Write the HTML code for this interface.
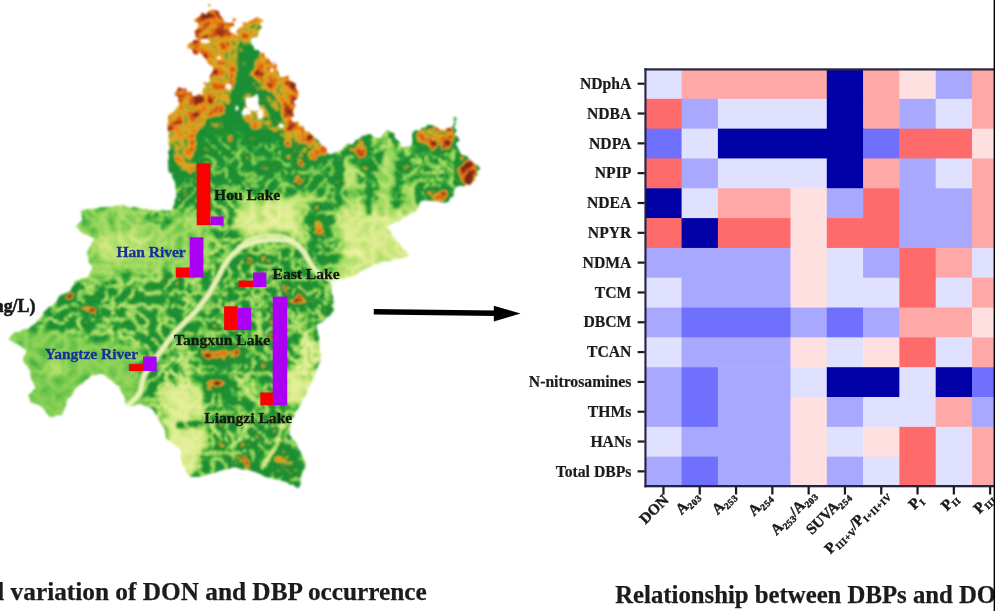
<!DOCTYPE html>
<html lang="en">
<head>
<meta charset="utf-8">
<title>Variation of DON and DBP occurrence</title>
<style>
html,body{margin:0;padding:0;background:#fff;width:995px;height:611px;overflow:hidden}
#fig{position:relative;width:995px;height:611px;overflow:hidden;background:#fff}
svg{display:block;position:absolute;left:0;top:0}
text{font-family:"Liberation Serif",serif;font-weight:bold;fill:#1a1a1a}
.yl{font-size:15.7px;stroke:#1a1a1a;stroke-width:0.2px}
.xl{font-size:15.2px;stroke:#1a1a1a;stroke-width:0.45px}
.sb{font-size:9.4px;letter-spacing:0.5px}
.cap{font-size:25.3px;stroke:#1a1a1a;stroke-width:0.25px}
.lk{font-size:15.6px;fill:#121a0c;stroke:#121a0c;stroke-width:0.3px}
.rv{font-size:15.5px;fill:#17309a;stroke:#17309a;stroke-width:0.3px}
</style>
</head>
<body>
<div id="fig">
<svg width="1010" height="626" viewBox="0 0 1010 626">
<defs>
<clipPath id="mapclip"><path clip-rule="evenodd" d="M208.4,11.0 L213.0,9.5 L218.5,11.0 L220.0,15.1 L222.5,18.0 L224.7,22.3 L228.5,23.0 L232.4,23.1 L233.0,17.9 L237.0,19.5 L233.1,21.9 L234.6,26.0 L230.4,27.0 L229.5,32.0 L232.3,32.9 L235.4,34.6 L238.4,35.5 L236.4,31.5 L239.3,27.9 L243.1,26.3 L242.6,22.0 L246.0,23.1 L249.1,21.2 L252.7,19.5 L257.3,16.9 L260.0,18.6 L263.8,21.0 L259.6,22.9 L262.3,27.6 L259.7,29.3 L258.8,32.0 L258.0,36.4 L253.4,37.4 L250.8,38.8 L250.7,43.3 L253.3,45.9 L254.7,50.0 L258.1,49.7 L260.6,52.7 L264.3,53.1 L264.8,57.4 L268.4,58.0 L270.6,62.5 L274.9,62.4 L277.3,65.3 L276.2,69.1 L278.9,72.5 L279.2,76.4 L283.4,77.6 L288.5,75.5 L289.0,79.6 L292.1,82.1 L295.8,83.2 L296.0,88.6 L298.4,92.3 L298.6,95.4 L297.0,98.7 L293.2,101.8 L296.0,105.5 L294.0,108.8 L292.7,112.1 L294.3,116.0 L291.0,118.0 L292.6,122.3 L298.8,121.6 L299.0,126.0 L303.3,125.7 L305.0,130.9 L309.0,131.4 L311.0,134.0 L313.2,136.3 L315.8,138.3 L318.4,140.4 L320.8,144.3 L323.0,146.0 L326.1,147.7 L327.2,152.7 L331.0,154.4 L333.9,152.8 L338.1,151.6 L341.0,150.0 L343.3,148.3 L345.6,145.2 L347.7,143.8 L351.2,144.5 L354.4,142.0 L356.0,140.0 L359.4,139.1 L361.2,136.5 L364.7,135.2 L367.3,134.6 L370.5,134.0 L373.6,137.0 L376.5,138.1 L380.5,138.0 L382.7,135.1 L384.4,132.8 L386.6,130.0 L389.1,130.9 L392.7,132.6 L394.7,134.0 L394.9,138.0 L397.6,140.3 L400.3,143.0 L400.7,147.0 L404.6,147.5 L407.7,145.9 L410.8,146.0 L412.2,142.4 L412.4,138.8 L411.9,135.2 L412.8,132.0 L415.6,130.2 L419.4,130.4 L422.2,127.7 L425.2,127.7 L427.5,124.7 L431.0,125.0 L434.9,126.0 L438.1,128.4 L441.0,130.0 L444.9,130.1 L447.7,127.7 L451.0,128.0 L454.0,124.1 L454.0,120.0 L456.0,123.5 L453.9,127.5 L457.0,130.0 L454.5,134.2 L457.6,136.7 L460.0,140.2 L455.7,143.6 L457.6,147.0 L459.0,150.0 L460.5,152.9 L463.4,155.4 L467.0,156.0 L469.0,159.1 L472.3,161.5 L474.9,163.9 L478.0,165.5 L480.3,168.7 L477.1,171.8 L477.8,175.1 L474.9,176.9 L475.0,180.6 L472.4,181.7 L470.3,185.0 L466.7,184.5 L464.1,186.2 L460.2,185.8 L457.0,186.6 L454.4,189.0 L454.0,193.3 L453.5,196.3 L450.1,198.0 L448.6,201.7 L445.0,202.7 L442.0,202.5 L438.5,201.6 L434.7,201.1 L431.0,200.7 L427.1,200.7 L424.4,200.3 L421.0,201.0 L419.1,203.9 L418.7,206.7 L417.0,210.0 L414.8,212.0 L411.6,213.6 L407.9,214.9 L405.8,216.7 L402.9,217.8 L400.0,221.0 L396.7,222.0 L393.6,223.3 L389.4,225.3 L386.6,227.0 L388.8,229.6 L390.9,232.0 L391.9,235.6 L394.7,238.0 L396.4,241.3 L398.4,242.6 L400.7,245.0 L402.3,248.1 L405.2,249.7 L406.9,253.1 L409.8,255.0 L406.9,256.5 L403.8,258.0 L400.7,258.4 L397.6,259.1 L393.5,259.3 L390.7,261.3 L386.8,261.6 L384.1,261.2 L380.5,262.4 L378.2,263.8 L374.8,263.9 L372.1,265.9 L369.1,267.1 L366.5,268.5 L363.9,269.5 L360.8,271.2 L358.2,273.2 L355.4,275.2 L352.4,276.5 L349.6,277.3 L346.1,277.6 L343.8,279.6 L340.3,279.6 L336.4,280.8 L333.2,280.9 L330.0,282.6 L331.7,286.1 L331.6,289.4 L331.9,292.9 L333.0,296.0 L333.3,300.0 L333.7,302.9 L333.1,306.2 L334.0,310.0 L331.8,313.1 L329.8,316.0 L327.0,317.4 L325.0,320.3 L320.9,322.8 L317.0,324.3 L316.6,327.2 L317.8,330.8 L318.2,333.8 L319.2,337.2 L319.0,340.4 L318.7,343.3 L320.2,347.5 L319.5,350.7 L321.2,354.0 L319.9,357.9 L321.0,360.6 L319.7,362.8 L318.2,365.7 L316.9,369.5 L316.0,371.3 L315.0,374.7 L313.6,378.3 L312.5,381.1 L310.8,383.5 L309.0,386.8 L307.7,389.1 L307.0,392.8 L305.9,395.3 L303.4,398.6 L301.9,400.6 L301.0,404.2 L299.5,406.8 L297.5,409.5 L295.4,411.7 L294.8,415.6 L293.0,418.1 L290.9,420.3 L290.3,424.3 L289.8,427.5 L289.9,431.0 L289.0,434.4 L291.5,436.9 L292.7,439.1 L295.3,441.6 L297.0,444.5 L298.4,448.3 L301.0,452.5 L302.0,456.3 L304.3,459.5 L305.3,462.4 L306.0,466.6 L304.3,469.6 L302.1,473.0 L301.0,476.7 L300.6,480.8 L300.5,484.5 L299.0,487.8 L296.1,487.5 L293.0,484.6 L290.1,484.9 L287.0,482.2 L284.4,481.5 L280.8,480.7 L277.8,479.7 L274.4,479.6 L271.4,478.1 L268.3,477.8 L264.7,476.7 L262.0,474.9 L259.4,473.8 L256.5,472.5 L253.4,471.6 L250.6,470.6 L247.3,469.5 L243.9,469.9 L240.5,469.0 L236.5,467.6 L233.2,467.5 L230.6,468.2 L226.4,469.5 L223.7,469.8 L220.4,470.6 L217.7,471.5 L214.5,473.1 L210.9,473.8 L207.7,473.9 L204.3,475.7 L201.1,476.4 L197.5,476.8 L193.8,476.9 L190.2,476.7 L187.2,473.7 L185.7,470.3 L184.4,467.3 L182.2,464.6 L181.7,460.9 L180.7,458.0 L180.5,454.8 L181.0,452.1 L180.1,448.5 L177.4,447.2 L174.6,445.1 L171.1,442.3 L168.9,440.8 L166.0,438.4 L165.5,434.5 L165.0,430.0 L163.2,426.2 L160.6,423.9 L159.0,420.0 L157.0,416.4 L155.3,413.9 L154.0,411.0 L151.0,408.0 L147.1,407.3 L144.8,405.7 L141.0,404.0 L137.4,404.6 L135.1,405.1 L132.6,406.4 L128.8,405.7 L125.9,407.0 L126.4,404.4 L124.8,401.6 L124.9,398.0 L123.4,395.6 L121.5,392.3 L120.3,389.6 L118.8,386.0 L115.5,384.4 L113.7,382.7 L111.6,380.5 L109.1,379.2 L106.6,377.1 L104.7,374.7 L101.6,373.9 L99.0,374.1 L95.6,375.6 L92.6,374.7 L90.1,376.8 L87.8,379.0 L84.8,380.7 L83.3,382.9 L80.6,384.7 L77.4,386.7 L74.5,390.0 L73.2,393.2 L70.9,396.7 L68.1,398.5 L66.5,402.0 L66.3,404.8 L65.0,407.8 L63.5,411.3 L62.4,414.2 L60.0,415.3 L56.8,415.3 L53.8,417.0 L50.4,417.3 L48.5,415.6 L46.4,413.0 L44.6,410.2 L42.7,407.6 L40.3,406.0 L37.0,404.2 L33.2,403.3 L30.2,402.0 L29.3,397.9 L28.2,395.0 L31.3,392.8 L33.4,389.8 L36.0,388.0 L34.1,384.8 L32.2,380.7 L30.8,377.9 L30.4,373.8 L30.2,370.6 L28.4,368.8 L27.0,365.3 L24.6,364.0 L23.2,360.6 L23.5,357.2 L26.0,353.5 L26.2,350.5 L23.9,348.5 L20.9,346.6 L18.1,344.4 L15.1,343.3 L11.1,340.8 L8.0,339.4 L10.0,337.7 L11.8,335.1 L14.1,332.4 L17.2,332.0 L20.7,331.5 L22.8,329.5 L26.2,329.3 L29.2,328.3 L31.4,325.9 L34.2,324.3 L36.9,321.8 L38.6,319.1 L40.1,317.6 L42.6,315.2 L44.0,311.4 L46.3,310.0 L48.4,307.3 L51.7,305.7 L53.5,304.1 L56.4,302.0 L57.9,298.4 L60.4,294.5 L63.6,293.5 L67.0,292.7 L70.5,291.0 L71.5,287.8 L74.1,284.1 L74.5,280.7 L78.3,280.3 L81.1,278.6 L85.2,278.3 L88.6,276.7 L89.0,274.0 L90.7,270.7 L92.6,268.6 L91.4,265.5 L88.6,262.6 L88.5,259.3 L87.5,255.4 L86.6,252.5 L88.6,249.5 L89.4,247.3 L91.5,244.0 L92.5,241.1 L94.7,238.4 L92.3,237.7 L89.0,236.2 L86.0,234.5 L82.8,233.2 L80.6,232.0 L78.2,228.2 L75.5,226.0 L78.2,224.1 L80.5,221.8 L82.6,220.0 L81.7,216.9 L81.6,213.9 L80.6,211.0 L83.4,210.1 L87.0,209.0 L91.0,209.1 L93.8,208.8 L97.2,208.5 L100.7,207.0 L103.6,207.1 L107.6,206.8 L111.3,206.8 L114.5,206.0 L117.6,205.7 L120.8,205.0 L124.1,205.0 L126.8,206.7 L130.4,207.4 L133.1,206.7 L136.5,207.2 L140.6,208.3 L143.4,209.3 L146.1,208.7 L149.8,209.8 L153.0,210.0 L156.0,210.4 L159.0,210.8 L162.3,209.8 L166.3,210.4 L169.0,210.2 L172.2,210.8 L172.7,207.0 L174.6,204.2 L174.5,199.9 L176.2,196.7 L176.3,193.0 L175.8,190.3 L174.9,187.0 L175.4,184.0 L174.2,180.6 L172.2,177.6 L172.0,174.5 L169.0,172.3 L168.0,168.5 L168.3,165.2 L167.7,162.4 L168.6,158.7 L168.9,155.4 L167.9,152.4 L169.5,148.7 L169.0,146.0 L168.5,142.4 L169.0,139.2 L168.2,136.3 L169.2,133.4 L167.7,130.6 L167.7,127.6 L167.6,123.8 L168.1,120.8 L168.0,115.4 L172.2,112.8 L175.2,110.1 L177.1,107.4 L179.4,104.4 L178.2,100.7 L178.2,96.6 L174.5,94.9 L176.2,90.6 L178.7,87.3 L182.7,88.5 L186.3,88.6 L187.5,92.0 L192.1,91.8 L192.0,96.0 L195.5,96.3 L199.4,93.6 L203.0,96.0 L202.2,92.3 L203.0,88.4 L205.8,86.0 L203.0,82.0 L207.3,82.9 L210.4,80.6 L209.5,77.3 L211.2,73.7 L213.5,69.7 L212.4,66.5 L209.0,64.2 L206.4,60.4 L204.3,57.5 L202.4,55.0 L199.6,52.6 L196.3,55.3 L193.3,53.4 L191.7,49.1 L187.3,48.3 L188.1,44.0 L191.8,42.7 L193.4,40.1 L198.0,40.0 L195.3,36.0 L194.4,31.1 L198.3,28.0 L198.3,22.7 L193.3,21.0 L196.9,17.6 L200.4,16.0 L201.5,12.2 L206.3,14.7Z M258.2,103.0 L260.5,108.6 L257.1,112.2 L253.0,110.5 L249.5,110.8 L247.2,107.3 L245.3,103.0 L245.7,97.6 L250.5,97.4 L253.0,97.0 L257.3,93.4 L258.8,98.7Z M251.3,112.0 L250.6,114.6 L247.4,114.4 L246.0,114.8 L243.5,116.3 L242.0,114.3 L241.5,112.0 L243.0,110.3 L243.9,108.3 L246.0,107.7 L248.1,108.3 L248.6,110.5Z M263.3,114.0 L263.6,116.6 L261.8,117.9 L260.0,119.4 L257.8,118.7 L257.6,115.7 L257.4,114.0 L255.7,110.9 L258.3,110.4 L260.0,109.9 L262.7,108.2 L263.4,111.6Z M231.4,87.0 L230.9,88.4 L230.4,90.2 L229.0,90.0 L228.0,89.4 L226.6,88.9 L225.1,87.0 L225.9,84.6 L227.2,82.9 L229.0,83.8 L230.5,83.4 L231.2,85.3Z M210.4,41.0 L210.1,42.2 L208.0,43.1 L205.0,43.6 L202.1,43.0 L199.4,42.3 L201.6,41.0 L200.8,40.0 L201.7,38.7 L205.0,38.8 L208.2,38.8 L208.2,40.3Z M284.0,126.0 L283.7,127.5 L282.2,128.1 L281.0,128.1 L280.2,127.4 L278.6,127.4 L278.6,126.0 L278.4,124.5 L279.9,124.0 L281.0,123.0 L282.1,124.2 L283.6,124.5Z M238.8,108.0 L238.3,109.1 L238.1,110.9 L237.0,110.1 L236.0,110.7 L235.4,109.4 L235.6,108.0 L235.3,106.5 L236.3,106.2 L237.0,105.1 L237.7,106.2 L238.2,106.9Z M220.6,58.0 L221.3,59.3 L219.7,59.3 L219.0,60.3 L218.3,59.2 L217.6,58.8 L216.3,58.0 L217.6,57.2 L217.9,56.1 L219.0,56.1 L220.0,56.3 L220.7,57.0Z M273.9,70.0 L273.6,70.9 L272.7,71.3 L272.0,72.5 L271.3,71.1 L270.3,71.0 L269.4,70.0 L270.8,69.3 L271.0,68.2 L272.0,67.8 L272.7,68.8 L273.6,69.1Z M210.6,5.0 L210.3,6.0 L209.3,6.7 L208.4,5.9 L208.0,5.0 L208.3,4.0 L209.3,4.0 L210.2,4.1Z M456.5,119.0 L456.1,121.0 L454.5,121.8 L453.4,120.3 L453.2,119.0 L453.2,117.4 L454.5,116.9 L456.2,116.8Z M275.7,63.0 L275.6,64.2 L274.0,64.7 L272.2,64.3 L272.4,63.0 L272.9,62.1 L274.0,61.9 L275.1,62.1Z"/></clipPath>
<filter id="terrain" filterUnits="userSpaceOnUse" x="0" y="0" width="500" height="500" color-interpolation-filters="sRGB">
<feGaussianBlur in="SourceGraphic" stdDeviation="0.5" result="src"/>
<feColorMatrix in="src" type="matrix" values="1 0 0 0 0  1 0 0 0 0  1 0 0 0 0  0 0 0 0 1" result="base"/>
<feColorMatrix in="src" type="matrix" values="0 1 0 0 0  0 1 0 0 0  0 1 0 0 0  0 0 0 0 1" result="amp"/>
<feTurbulence type="turbulence" baseFrequency="0.075" numOctaves="4" seed="7" result="n"/>
<feColorMatrix in="n" type="matrix" values="1 0 0 0 0  1 0 0 0 0  1 0 0 0 0  0 0 0 0 1" result="ng"/>
<feComposite in="amp" in2="ng" operator="arithmetic" k1="1" k2="-0.3" k3="0" k4="0.5" result="t"/>
<feComposite in="base" in2="t" operator="arithmetic" k1="0" k2="1" k3="2" k4="-1" result="e"/>
<feComponentTransfer in="e">
<feFuncR type="table" tableValues="0.933 0.916 0.898 0.880 0.863 0.822 0.782 0.742 0.700 0.658 0.615 0.573 0.525 0.478 0.431 0.382 0.331 0.279 0.227 0.194 0.160 0.127 0.110 0.111 0.111 0.112 0.112 0.113 0.113 0.113 0.114 0.114 0.115 0.115 0.116 0.116 0.117 0.117 0.206 0.382 0.580 0.800 0.859 0.919 0.909 0.876 0.843 0.765 0.686 0.595 0.490"/>
<feFuncG type="table" tableValues="0.957 0.949 0.941 0.933 0.925 0.914 0.903 0.892 0.878 0.863 0.847 0.831 0.813 0.796 0.778 0.754 0.725 0.696 0.667 0.640 0.613 0.586 0.572 0.570 0.569 0.567 0.566 0.564 0.563 0.562 0.560 0.559 0.557 0.556 0.554 0.553 0.551 0.550 0.569 0.608 0.648 0.690 0.645 0.600 0.529 0.451 0.373 0.302 0.231 0.180 0.149"/>
<feFuncB type="table" tableValues="0.659 0.633 0.608 0.582 0.557 0.523 0.490 0.456 0.427 0.402 0.378 0.353 0.335 0.317 0.299 0.282 0.267 0.251 0.235 0.229 0.222 0.215 0.211 0.210 0.209 0.208 0.207 0.206 0.205 0.204 0.203 0.202 0.201 0.200 0.200 0.199 0.198 0.197 0.191 0.181 0.170 0.157 0.131 0.105 0.093 0.086 0.078 0.075 0.072 0.076 0.086"/>
</feComponentTransfer>
</filter>
<filter id="b5" filterUnits="userSpaceOnUse" x="0" y="0" width="500" height="500" color-interpolation-filters="sRGB"><feGaussianBlur stdDeviation="4"/></filter>
<filter id="b1" filterUnits="userSpaceOnUse" x="0" y="0" width="500" height="500" color-interpolation-filters="sRGB"><feGaussianBlur stdDeviation="1.3"/></filter>
<filter id="soft" x="-5%" y="-5%" width="110%" height="110%"><feGaussianBlur stdDeviation="0.6"/></filter>
<filter id="soft3" x="-5%" y="-5%" width="110%" height="110%"><feGaussianBlur stdDeviation="0.7"/></filter>
<filter id="soft2" x="-5%" y="-5%" width="110%" height="110%"><feGaussianBlur stdDeviation="0.9"/></filter>
</defs>
<rect width="995" height="611" fill="#ffffff"/>
<!-- MAP -->
<g id="map" filter="url(#soft2)">
<g clip-path="url(#mapclip)">
<g filter="url(#terrain)">
<g filter="url(#b5)"><rect x="0" y="0" width="500" height="500" fill="rgb(87,140,0)"/>
<polygon points="185,0 275,0 310,90 312,142 160,152 160,90 180,50" fill="rgb(217,41,0)"/>
<polyline points="200,18 212,14 226,22 236,22" fill="none" stroke="rgb(252,41,0)" stroke-width="9" stroke-linecap="round" stroke-linejoin="round"/>
<polyline points="198,30 196,48 204,58 210,72" fill="none" stroke="rgb(250,41,0)" stroke-width="8" stroke-linecap="round" stroke-linejoin="round"/>
<polyline points="178,94 190,92 204,100" fill="none" stroke="rgb(252,41,0)" stroke-width="8" stroke-linecap="round" stroke-linejoin="round"/>
<polyline points="172,100 170,125" fill="none" stroke="rgb(237,41,0)" stroke-width="6" stroke-linecap="round" stroke-linejoin="round"/>
<polyline points="268,58 280,70 292,84 296,100 293,118" fill="none" stroke="rgb(250,41,0)" stroke-width="7" stroke-linecap="round" stroke-linejoin="round"/>
<polyline points="293,122 305,132 318,142" fill="none" stroke="rgb(247,41,0)" stroke-width="7" stroke-linecap="round" stroke-linejoin="round"/>
<polyline points="244,22 240,34" fill="none" stroke="rgb(242,41,0)" stroke-width="5" stroke-linecap="round" stroke-linejoin="round"/>
<ellipse cx="186" cy="138" rx="15" ry="26" fill="rgb(214,41,0)"/>
<ellipse cx="218" cy="45" rx="10" ry="10" fill="rgb(219,41,0)"/>
<polyline points="258,24 250,50 242,80 238,105 233,133 230,158" fill="none" stroke="rgb(204,41,0)" stroke-width="20" stroke-linecap="round" stroke-linejoin="round"/>
<polyline points="242,80 268,100 276,120" fill="none" stroke="rgb(204,41,0)" stroke-width="13" stroke-linecap="round" stroke-linejoin="round"/>
<polyline points="238,105 218,118 205,135" fill="none" stroke="rgb(204,41,0)" stroke-width="13" stroke-linecap="round" stroke-linejoin="round"/>
<polyline points="258,24 250,50" fill="none" stroke="rgb(201,41,0)" stroke-width="8" stroke-linecap="round" stroke-linejoin="round"/>
<polyline points="250,50 242,80 238,105 233,133 230,158" fill="none" stroke="rgb(128,76,0)" stroke-width="9" stroke-linecap="round" stroke-linejoin="round"/>
<polyline points="242,80 268,100 276,120" fill="none" stroke="rgb(140,76,0)" stroke-width="6" stroke-linecap="round" stroke-linejoin="round"/>
<polyline points="238,105 218,118 205,135" fill="none" stroke="rgb(158,76,0)" stroke-width="6" stroke-linecap="round" stroke-linejoin="round"/>
<polyline points="235,125 262,138" fill="none" stroke="rgb(140,76,0)" stroke-width="6" stroke-linecap="round" stroke-linejoin="round"/>
<polyline points="244,66 226,50" fill="none" stroke="rgb(204,41,0)" stroke-width="5" stroke-linecap="round" stroke-linejoin="round"/>
<polygon points="160,150 215,132 265,132 300,140 335,158 345,196 225,196 170,215 160,200" fill="rgb(107,128,0)"/>
<ellipse cx="190" cy="190" rx="22" ry="45" fill="rgb(110,143,0)"/>
<ellipse cx="302" cy="146" rx="22" ry="12" fill="rgb(222,41,0)" transform="rotate(28 302 146)"/>
<ellipse cx="325" cy="150" rx="9" ry="9" fill="rgb(219,41,0)"/>
<ellipse cx="268" cy="168" rx="9" ry="7" fill="rgb(189,66,0)"/>
<ellipse cx="250" cy="140" rx="8" ry="6" fill="rgb(189,66,0)"/>
<ellipse cx="184" cy="150" rx="16" ry="20" fill="rgb(214,41,0)"/>
<ellipse cx="186" cy="168" rx="13" ry="10" fill="rgb(201,51,0)"/>
<ellipse cx="300" cy="150" rx="20" ry="10" fill="rgb(204,51,0)" transform="rotate(28 300 150)"/>
<polygon points="240,198 300,194 345,200 345,222 300,244 250,248 232,228" fill="rgb(28,26,0)"/>
<ellipse cx="270" cy="222" rx="26" ry="14" fill="rgb(15,26,0)"/>
<polygon points="70,200 175,205 215,230 210,275 180,285 60,300" fill="rgb(56,36,0)"/>
<ellipse cx="158" cy="218" rx="10" ry="8" fill="rgb(110,143,0)"/>
<ellipse cx="90" cy="222" rx="10" ry="12" fill="rgb(71,36,0)"/>
<ellipse cx="125" cy="245" rx="30" ry="14" fill="rgb(33,26,0)"/>
<ellipse cx="222" cy="268" rx="16" ry="28" fill="rgb(69,102,0)"/>
<polygon points="330,130 480,110 490,200 420,210 340,205" fill="rgb(92,140,0)"/>
<ellipse cx="362" cy="150" rx="7" ry="10" fill="rgb(219,66,0)"/>
<ellipse cx="435" cy="138" rx="24" ry="13" fill="rgb(217,66,0)"/>
<ellipse cx="468" cy="172" rx="10" ry="16" fill="rgb(245,66,0)"/>
<ellipse cx="440" cy="197" rx="12" ry="7" fill="rgb(240,66,0)"/>
<polyline points="352,165 356,215" fill="none" stroke="rgb(38,26,0)" stroke-width="13" stroke-linecap="round" stroke-linejoin="round"/>
<polyline points="390,148 384,215" fill="none" stroke="rgb(43,26,0)" stroke-width="13" stroke-linecap="round" stroke-linejoin="round"/>
<polyline points="412,185 405,215" fill="none" stroke="rgb(46,26,0)" stroke-width="9" stroke-linecap="round" stroke-linejoin="round"/>
<polyline points="333,150 337,210" fill="none" stroke="rgb(110,143,0)" stroke-width="9" stroke-linecap="round" stroke-linejoin="round"/>
<polyline points="372,140 371,215" fill="none" stroke="rgb(110,143,0)" stroke-width="9" stroke-linecap="round" stroke-linejoin="round"/>
<polyline points="406,150 399,205" fill="none" stroke="rgb(110,143,0)" stroke-width="8" stroke-linecap="round" stroke-linejoin="round"/>
<polyline points="430,160 420,195" fill="none" stroke="rgb(110,143,0)" stroke-width="12" stroke-linecap="round" stroke-linejoin="round"/>
<polygon points="338,205 420,205 415,262 330,290 335,240" fill="rgb(26,26,0)"/>
<ellipse cx="357" cy="252" rx="10" ry="9" fill="rgb(8,26,0)"/>
<ellipse cx="322" cy="232" rx="15" ry="32" fill="rgb(110,143,0)" transform="rotate(-18 322 232)"/>
<ellipse cx="320" cy="226" rx="5" ry="9" fill="rgb(217,66,0)" transform="rotate(-18 320 226)"/>
<polygon points="300,262 350,262 340,284 300,284" fill="rgb(51,26,0)"/>
<polygon points="50,283 200,272 215,330 140,345 60,322" fill="rgb(84,128,0)"/>
<ellipse cx="90" cy="310" rx="11" ry="5" fill="rgb(219,66,0)"/>
<ellipse cx="70" cy="296" rx="6" ry="4" fill="rgb(214,66,0)"/>
<ellipse cx="102" cy="289" rx="5" ry="3" fill="rgb(214,66,0)"/>
<polygon points="0,322 60,330 135,345 150,425 20,430" fill="rgb(64,26,0)"/>
<ellipse cx="55" cy="370" rx="10" ry="7" fill="rgb(43,26,0)"/>
<ellipse cx="100" cy="362" rx="30" ry="14" fill="rgb(61,20,0)"/>
<ellipse cx="45" cy="395" rx="18" ry="18" fill="rgb(64,20,0)"/>
<polygon points="170,285 340,284 340,335 300,420 315,495 190,490 190,430 150,400 160,340" fill="rgb(92,140,0)"/>
<polygon points="246,252 330,256 335,300 320,330 275,420 290,480 215,470 205,420 210,300" fill="rgb(101,153,0)"/>
<ellipse cx="222" cy="356" rx="22" ry="8" fill="rgb(214,66,0)"/>
<ellipse cx="217" cy="383" rx="16" ry="7" fill="rgb(214,66,0)"/>
<ellipse cx="230" cy="400" rx="6" ry="6" fill="rgb(204,66,0)"/>
<ellipse cx="297" cy="302" rx="14" ry="4" fill="rgb(217,66,0)"/>
<ellipse cx="296" cy="338" rx="6" ry="3" fill="rgb(207,66,0)"/>
<ellipse cx="285" cy="462" rx="13" ry="14" fill="rgb(204,51,0)"/>
<ellipse cx="250" cy="470" rx="18" ry="6" fill="rgb(196,51,0)"/>
<ellipse cx="308" cy="365" rx="13" ry="38" fill="rgb(33,76,0)"/>
<ellipse cx="294" cy="390" rx="10" ry="22" fill="rgb(20,26,0)"/>
<ellipse cx="258" cy="386" rx="8" ry="8" fill="rgb(36,26,0)"/>
<polygon points="158,388 200,378 208,420 198,472 178,478 162,432" fill="rgb(20,26,0)"/>
<ellipse cx="180" cy="445" rx="14" ry="30" fill="rgb(15,20,0)"/>
<ellipse cx="180" cy="365" rx="18" ry="22" fill="rgb(64,115,0)"/>
<polyline points="140,393 144,375 158,355 175,332 196,311 208,295 216,281 224,266 231,256 241,247 255,241 271,238 287,240 297,244 304,252 311,264 319,274 331,280" fill="none" stroke="rgb(92,76,0)" stroke-width="11" stroke-linecap="round" stroke-linejoin="round"/></g>
<g filter="url(#b1)"><polyline points="350,170 353,212" fill="none" stroke="rgb(41,31,0)" stroke-width="9" stroke-linecap="round" stroke-linejoin="round"/>
<polyline points="388,155 383,212" fill="none" stroke="rgb(46,31,0)" stroke-width="9" stroke-linecap="round" stroke-linejoin="round"/>
<polyline points="411,188 405,212" fill="none" stroke="rgb(46,31,0)" stroke-width="6" stroke-linecap="round" stroke-linejoin="round"/>
<polyline points="335,158 339,205" fill="none" stroke="rgb(122,76,0)" stroke-width="6" stroke-linecap="round" stroke-linejoin="round"/>
<polyline points="370,150 369,212" fill="none" stroke="rgb(122,76,0)" stroke-width="6" stroke-linecap="round" stroke-linejoin="round"/>
<polyline points="402,155 397,205" fill="none" stroke="rgb(122,76,0)" stroke-width="6" stroke-linecap="round" stroke-linejoin="round"/>
<polyline points="283,420 277,445 262,468" fill="none" stroke="rgb(20,26,0)" stroke-width="4" stroke-linecap="round" stroke-linejoin="round"/>
<polyline points="235,375 250,395 260,405" fill="none" stroke="rgb(31,26,0)" stroke-width="3" stroke-linecap="round" stroke-linejoin="round"/>
<polyline points="250,415 240,440 225,450" fill="none" stroke="rgb(31,26,0)" stroke-width="3" stroke-linecap="round" stroke-linejoin="round"/>
<polyline points="205,415 222,440" fill="none" stroke="rgb(31,26,0)" stroke-width="3.5" stroke-linecap="round" stroke-linejoin="round"/>
<polyline points="255,310 262,340" fill="none" stroke="rgb(41,26,0)" stroke-width="3" stroke-linecap="round" stroke-linejoin="round"/>
<polyline points="180,425 200,425" fill="none" stroke="rgb(110,143,0)" stroke-width="7" stroke-linecap="round" stroke-linejoin="round"/>
<ellipse cx="218" cy="354" rx="13" ry="3.2" fill="rgb(245,51,0)" transform="rotate(-8 218 354)"/>
<ellipse cx="216" cy="383" rx="10" ry="3" fill="rgb(245,51,0)"/>
<ellipse cx="300" cy="301" rx="12" ry="2.5" fill="rgb(224,51,0)"/>
<ellipse cx="88" cy="309" rx="8" ry="3" fill="rgb(237,51,0)" transform="rotate(15 88 309)"/>
<ellipse cx="70" cy="296" rx="4" ry="2.5" fill="rgb(235,51,0)" transform="rotate(-30 70 296)"/>
<ellipse cx="319" cy="226" rx="4.5" ry="7" fill="rgb(222,38,0)" transform="rotate(-20 319 226)"/>
<ellipse cx="469" cy="172" rx="7" ry="13" fill="rgb(245,51,0)" transform="rotate(10 469 172)"/>
<ellipse cx="440" cy="196" rx="9" ry="4.5" fill="rgb(242,51,0)" transform="rotate(-20 440 196)"/>
<ellipse cx="361" cy="150" rx="6" ry="9" fill="rgb(222,38,0)"/>
<ellipse cx="324" cy="149" rx="6" ry="7" fill="rgb(222,38,0)"/>
<ellipse cx="436" cy="136" rx="20" ry="9" fill="rgb(219,51,0)" transform="rotate(-8 436 136)"/></g>
</g>
<g fill="none" stroke="#e6f3b2" stroke-linejoin="round" stroke-linecap="round">
<polyline points="126,407 131,403 140,393 144,375 158,355 175,332 186,321 196.3,310.8 208.4,294.7 216.5,280.6 223.5,266.5 230.6,256.4 240.6,247.3 254.7,241.8 270.8,239.3 287,240.2 297,244.3 304.1,252.4 311.1,264.5 319.2,274.5 331.3,279.6 352,281" stroke-width="5"/>
<polyline points="238,247 250,238.5 266,235 282,235.5 294,240" stroke-width="2.6"/>
</g>
</g>
</g>
<g id="bars" filter="url(#soft)">
<rect x="196.7" y="163.4" width="13.7" height="61.8" fill="#fa0303"/>
<rect x="210.4" y="216.5" width="13.1" height="8.7" fill="#ac00f2"/>
<rect x="189.7" y="237.3" width="13.7" height="40.2" fill="#ac00f2"/>
<rect x="175.8" y="267.5" width="13.9" height="10" fill="#fa0303"/>
<rect x="253.1" y="272.5" width="13.3" height="14.5" fill="#ac00f2"/>
<rect x="238.6" y="280.6" width="14.5" height="6.4" fill="#fa0303"/>
<rect x="224.1" y="306.3" width="13.7" height="23.7" fill="#fa0303"/>
<rect x="237.8" y="307.8" width="13.3" height="22.2" fill="#ac00f2"/>
<rect x="272.7" y="296.6" width="14.5" height="108.6" fill="#ac00f2"/>
<rect x="260.3" y="392.5" width="12.6" height="12.7" fill="#fa0303"/>
<rect x="143" y="356.5" width="13.7" height="14.5" fill="#ac00f2"/>
<rect x="128.9" y="364.2" width="14.2" height="6.8" fill="#fa0303"/>
</g>
<g id="maplabels" filter="url(#soft)">
<text class="lk" x="214" y="200">Hou Lake</text>
<text class="rv" x="116.4" y="257">Han River</text>
<text class="lk" x="272.5" y="278.5">East Lake</text>
<text class="lk" x="174.1" y="345.4">Tangxun Lake</text>
<text class="rv" x="44.7" y="359.2">Yangtze River</text>
<text class="lk" x="204.3" y="422.7">Liangzi Lake</text>
<text x="35.3" y="311.8" text-anchor="end" style="font-size:17.8px;stroke:#1a1a1a;stroke-width:0.6px">ng/L)</text>
</g>
<!-- ARROW -->
<g filter="url(#soft)">
<line x1="373.8" y1="311.8" x2="496" y2="313.3" stroke="#000" stroke-width="5.5"/>
<polygon points="493.8,305.8 520.6,313.6 493.8,321.5" fill="#000"/>
</g>
<!-- HEATMAP -->
<g id="heatmap" filter="url(#soft3)">
<rect x="645.30" y="69.00" width="36.80" height="30.32" fill="#e0e0ff"/>
<rect x="681.60" y="69.00" width="145.70" height="30.32" fill="#ffa8a8"/>
<rect x="826.80" y="69.00" width="36.80" height="30.32" fill="#0000a6"/>
<rect x="863.10" y="69.00" width="36.80" height="30.32" fill="#ffa8a8"/>
<rect x="899.40" y="69.00" width="36.80" height="30.32" fill="#ffe0e0"/>
<rect x="935.70" y="69.00" width="36.80" height="30.32" fill="#a8a8ff"/>
<rect x="972.00" y="69.00" width="36.80" height="30.32" fill="#ffa8a8"/>
<rect x="645.30" y="98.82" width="36.80" height="30.32" fill="#ff6a6a"/>
<rect x="681.60" y="98.82" width="36.80" height="30.32" fill="#a8a8ff"/>
<rect x="717.90" y="98.82" width="109.40" height="30.32" fill="#e0e0ff"/>
<rect x="826.80" y="98.82" width="36.80" height="30.32" fill="#0000a6"/>
<rect x="863.10" y="98.82" width="36.80" height="30.32" fill="#ffa8a8"/>
<rect x="899.40" y="98.82" width="36.80" height="30.32" fill="#a8a8ff"/>
<rect x="935.70" y="98.82" width="36.80" height="30.32" fill="#e0e0ff"/>
<rect x="972.00" y="98.82" width="36.80" height="30.32" fill="#ffa8a8"/>
<rect x="645.30" y="128.64" width="36.80" height="30.32" fill="#7070ff"/>
<rect x="681.60" y="128.64" width="36.80" height="30.32" fill="#e0e0ff"/>
<rect x="717.90" y="128.64" width="145.70" height="30.32" fill="#0000a6"/>
<rect x="863.10" y="128.64" width="36.80" height="30.32" fill="#7070ff"/>
<rect x="899.40" y="128.64" width="73.10" height="30.32" fill="#ff6a6a"/>
<rect x="972.00" y="128.64" width="36.80" height="30.32" fill="#ffe0e0"/>
<rect x="645.30" y="158.46" width="36.80" height="30.32" fill="#ff6a6a"/>
<rect x="681.60" y="158.46" width="36.80" height="30.32" fill="#a8a8ff"/>
<rect x="717.90" y="158.46" width="109.40" height="30.32" fill="#e0e0ff"/>
<rect x="826.80" y="158.46" width="36.80" height="30.32" fill="#0000a6"/>
<rect x="863.10" y="158.46" width="36.80" height="30.32" fill="#ffa8a8"/>
<rect x="899.40" y="158.46" width="36.80" height="30.32" fill="#a8a8ff"/>
<rect x="935.70" y="158.46" width="36.80" height="30.32" fill="#e0e0ff"/>
<rect x="972.00" y="158.46" width="36.80" height="30.32" fill="#ffa8a8"/>
<rect x="645.30" y="188.28" width="36.80" height="30.32" fill="#0000a6"/>
<rect x="681.60" y="188.28" width="36.80" height="30.32" fill="#e0e0ff"/>
<rect x="717.90" y="188.28" width="73.10" height="30.32" fill="#ffa8a8"/>
<rect x="790.50" y="188.28" width="36.80" height="30.32" fill="#ffe0e0"/>
<rect x="826.80" y="188.28" width="36.80" height="30.32" fill="#a8a8ff"/>
<rect x="863.10" y="188.28" width="36.80" height="30.32" fill="#ff6a6a"/>
<rect x="899.40" y="188.28" width="73.10" height="30.32" fill="#a8a8ff"/>
<rect x="972.00" y="188.28" width="36.80" height="30.32" fill="#ffa8a8"/>
<rect x="645.30" y="218.10" width="36.80" height="30.32" fill="#ff6a6a"/>
<rect x="681.60" y="218.10" width="36.80" height="30.32" fill="#0000a6"/>
<rect x="717.90" y="218.10" width="73.10" height="30.32" fill="#ff6a6a"/>
<rect x="790.50" y="218.10" width="36.80" height="30.32" fill="#ffe0e0"/>
<rect x="826.80" y="218.10" width="73.10" height="30.32" fill="#ff6a6a"/>
<rect x="899.40" y="218.10" width="73.10" height="30.32" fill="#a8a8ff"/>
<rect x="972.00" y="218.10" width="36.80" height="30.32" fill="#ffa8a8"/>
<rect x="645.30" y="247.92" width="145.70" height="30.32" fill="#a8a8ff"/>
<rect x="790.50" y="247.92" width="36.80" height="30.32" fill="#ffe0e0"/>
<rect x="826.80" y="247.92" width="36.80" height="30.32" fill="#e0e0ff"/>
<rect x="863.10" y="247.92" width="36.80" height="30.32" fill="#a8a8ff"/>
<rect x="899.40" y="247.92" width="36.80" height="30.32" fill="#ff6a6a"/>
<rect x="935.70" y="247.92" width="36.80" height="30.32" fill="#ffa8a8"/>
<rect x="972.00" y="247.92" width="36.80" height="30.32" fill="#e0e0ff"/>
<rect x="645.30" y="277.74" width="36.80" height="30.32" fill="#e0e0ff"/>
<rect x="681.60" y="277.74" width="109.40" height="30.32" fill="#a8a8ff"/>
<rect x="790.50" y="277.74" width="36.80" height="30.32" fill="#ffe0e0"/>
<rect x="826.80" y="277.74" width="73.10" height="30.32" fill="#e0e0ff"/>
<rect x="899.40" y="277.74" width="36.80" height="30.32" fill="#ff6a6a"/>
<rect x="935.70" y="277.74" width="36.80" height="30.32" fill="#e0e0ff"/>
<rect x="972.00" y="277.74" width="36.80" height="30.32" fill="#ffa8a8"/>
<rect x="645.30" y="307.56" width="36.80" height="30.32" fill="#a8a8ff"/>
<rect x="681.60" y="307.56" width="109.40" height="30.32" fill="#7070ff"/>
<rect x="790.50" y="307.56" width="36.80" height="30.32" fill="#a8a8ff"/>
<rect x="826.80" y="307.56" width="36.80" height="30.32" fill="#7070ff"/>
<rect x="863.10" y="307.56" width="36.80" height="30.32" fill="#a8a8ff"/>
<rect x="899.40" y="307.56" width="73.10" height="30.32" fill="#ffa8a8"/>
<rect x="972.00" y="307.56" width="36.80" height="30.32" fill="#ffe0e0"/>
<rect x="645.30" y="337.38" width="36.80" height="30.32" fill="#e0e0ff"/>
<rect x="681.60" y="337.38" width="109.40" height="30.32" fill="#a8a8ff"/>
<rect x="790.50" y="337.38" width="36.80" height="30.32" fill="#ffe0e0"/>
<rect x="826.80" y="337.38" width="36.80" height="30.32" fill="#e0e0ff"/>
<rect x="863.10" y="337.38" width="36.80" height="30.32" fill="#ffe0e0"/>
<rect x="899.40" y="337.38" width="36.80" height="30.32" fill="#ff6a6a"/>
<rect x="935.70" y="337.38" width="36.80" height="30.32" fill="#e0e0ff"/>
<rect x="972.00" y="337.38" width="36.80" height="30.32" fill="#ffa8a8"/>
<rect x="645.30" y="367.20" width="36.80" height="30.32" fill="#a8a8ff"/>
<rect x="681.60" y="367.20" width="36.80" height="30.32" fill="#7070ff"/>
<rect x="717.90" y="367.20" width="73.10" height="30.32" fill="#a8a8ff"/>
<rect x="790.50" y="367.20" width="36.80" height="30.32" fill="#e0e0ff"/>
<rect x="826.80" y="367.20" width="73.10" height="30.32" fill="#0000a6"/>
<rect x="899.40" y="367.20" width="36.80" height="30.32" fill="#e0e0ff"/>
<rect x="935.70" y="367.20" width="36.80" height="30.32" fill="#0000a6"/>
<rect x="972.00" y="367.20" width="36.80" height="30.32" fill="#7070ff"/>
<rect x="645.30" y="397.02" width="36.80" height="30.32" fill="#a8a8ff"/>
<rect x="681.60" y="397.02" width="36.80" height="30.32" fill="#7070ff"/>
<rect x="717.90" y="397.02" width="73.10" height="30.32" fill="#a8a8ff"/>
<rect x="790.50" y="397.02" width="36.80" height="30.32" fill="#ffe0e0"/>
<rect x="826.80" y="397.02" width="36.80" height="30.32" fill="#a8a8ff"/>
<rect x="863.10" y="397.02" width="73.10" height="30.32" fill="#e0e0ff"/>
<rect x="935.70" y="397.02" width="36.80" height="30.32" fill="#ffa8a8"/>
<rect x="972.00" y="397.02" width="36.80" height="30.32" fill="#a8a8ff"/>
<rect x="645.30" y="426.84" width="36.80" height="30.32" fill="#e0e0ff"/>
<rect x="681.60" y="426.84" width="109.40" height="30.32" fill="#a8a8ff"/>
<rect x="790.50" y="426.84" width="36.80" height="30.32" fill="#ffe0e0"/>
<rect x="826.80" y="426.84" width="36.80" height="30.32" fill="#e0e0ff"/>
<rect x="863.10" y="426.84" width="36.80" height="30.32" fill="#ffe0e0"/>
<rect x="899.40" y="426.84" width="36.80" height="30.32" fill="#ff6a6a"/>
<rect x="935.70" y="426.84" width="36.80" height="30.32" fill="#e0e0ff"/>
<rect x="972.00" y="426.84" width="36.80" height="30.32" fill="#ffa8a8"/>
<rect x="645.30" y="456.66" width="36.80" height="30.32" fill="#a8a8ff"/>
<rect x="681.60" y="456.66" width="36.80" height="30.32" fill="#7070ff"/>
<rect x="717.90" y="456.66" width="73.10" height="30.32" fill="#a8a8ff"/>
<rect x="790.50" y="456.66" width="36.80" height="30.32" fill="#ffe0e0"/>
<rect x="826.80" y="456.66" width="36.80" height="30.32" fill="#a8a8ff"/>
<rect x="863.10" y="456.66" width="36.80" height="30.32" fill="#e0e0ff"/>
<rect x="899.40" y="456.66" width="36.80" height="30.32" fill="#ff6a6a"/>
<rect x="935.70" y="456.66" width="36.80" height="30.32" fill="#e0e0ff"/>
<rect x="972.00" y="456.66" width="36.80" height="30.32" fill="#ffa8a8"/>
<rect x="644.4" y="68.3" width="352" height="2.2" fill="#26263c"/>
<rect x="644.4" y="68.3" width="2.1" height="419" fill="#202044"/>
<rect x="644.4" y="485" width="352" height="2.3" fill="#202044"/>
<rect x="637.6" y="82.61" width="7" height="2.2" fill="#1a1a1a"/>
<text class="yl" x="631.4" y="88.91" text-anchor="end">NDphA</text>
<rect x="637.6" y="112.43" width="7" height="2.2" fill="#1a1a1a"/>
<text class="yl" x="631.4" y="118.73" text-anchor="end">NDBA</text>
<rect x="637.6" y="142.25" width="7" height="2.2" fill="#1a1a1a"/>
<text class="yl" x="631.4" y="148.55" text-anchor="end">NDPA</text>
<rect x="637.6" y="172.07" width="7" height="2.2" fill="#1a1a1a"/>
<text class="yl" x="631.4" y="178.37" text-anchor="end">NPIP</text>
<rect x="637.6" y="201.89" width="7" height="2.2" fill="#1a1a1a"/>
<text class="yl" x="631.4" y="208.19" text-anchor="end">NDEA</text>
<rect x="637.6" y="231.71" width="7" height="2.2" fill="#1a1a1a"/>
<text class="yl" x="631.4" y="238.01" text-anchor="end">NPYR</text>
<rect x="637.6" y="261.53" width="7" height="2.2" fill="#1a1a1a"/>
<text class="yl" x="631.4" y="267.83" text-anchor="end">NDMA</text>
<rect x="637.6" y="291.35" width="7" height="2.2" fill="#1a1a1a"/>
<text class="yl" x="631.4" y="297.65" text-anchor="end">TCM</text>
<rect x="637.6" y="321.17" width="7" height="2.2" fill="#1a1a1a"/>
<text class="yl" x="631.4" y="327.47" text-anchor="end">DBCM</text>
<rect x="637.6" y="350.99" width="7" height="2.2" fill="#1a1a1a"/>
<text class="yl" x="631.4" y="357.29" text-anchor="end">TCAN</text>
<rect x="637.6" y="380.81" width="7" height="2.2" fill="#1a1a1a"/>
<text class="yl" x="631.4" y="387.11" text-anchor="end">N-nitrosamines</text>
<rect x="637.6" y="410.63" width="7" height="2.2" fill="#1a1a1a"/>
<text class="yl" x="631.4" y="416.93" text-anchor="end">THMs</text>
<rect x="637.6" y="440.45" width="7" height="2.2" fill="#1a1a1a"/>
<text class="yl" x="631.4" y="446.75" text-anchor="end">HANs</text>
<rect x="637.6" y="470.27" width="7" height="2.2" fill="#1a1a1a"/>
<text class="yl" x="631.4" y="476.57" text-anchor="end">Total DBPs</text>
<rect x="662.35" y="487" width="2.2" height="7.5" fill="#1a1a1a"/>
<text class="xl" transform="translate(669.45,501) rotate(-45)" text-anchor="end">DON</text>
<rect x="698.65" y="487" width="2.2" height="7.5" fill="#1a1a1a"/>
<text class="xl" transform="translate(700.25,496.5) rotate(-45)" text-anchor="end">A<tspan class="sb" dy="3">203</tspan></text>
<rect x="734.95" y="487" width="2.2" height="7.5" fill="#1a1a1a"/>
<text class="xl" transform="translate(736.55,496.5) rotate(-45)" text-anchor="end">A<tspan class="sb" dy="3">253</tspan></text>
<rect x="771.25" y="487" width="2.2" height="7.5" fill="#1a1a1a"/>
<text class="xl" transform="translate(772.85,497.8) rotate(-45)" text-anchor="end">A<tspan class="sb" dy="3">254</tspan></text>
<rect x="807.55" y="487" width="2.2" height="7.5" fill="#1a1a1a"/>
<text class="xl" transform="translate(817.05,495.2) rotate(-45)" text-anchor="end">A<tspan class="sb" dy="3">253</tspan><tspan dy="-3">/A</tspan><tspan class="sb" dy="3">203</tspan></text>
<rect x="843.85" y="487" width="2.2" height="7.5" fill="#1a1a1a"/>
<text class="xl" transform="translate(850.95,496.5) rotate(-45)" text-anchor="end">SUVA<tspan class="sb" dy="3">254</tspan></text>
<rect x="880.15" y="487" width="2.2" height="7.5" fill="#1a1a1a"/>
<text class="xl" transform="translate(889.95,495.2) rotate(-45)" text-anchor="end">P<tspan class="sb" dy="3">III+V</tspan><tspan dy="-3">/P</tspan><tspan class="sb" dy="3">I+II+IV</tspan></text>
<rect x="916.45" y="487" width="2.2" height="7.5" fill="#1a1a1a"/>
<text class="xl" transform="translate(923.95,500.7) rotate(-45)" text-anchor="end">P<tspan class="sb" dy="3">I</tspan></text>
<rect x="952.75" y="487" width="2.2" height="7.5" fill="#1a1a1a"/>
<text class="xl" transform="translate(959.35,499.1) rotate(-45)" text-anchor="end">P<tspan class="sb" dy="3">II</tspan></text>
<rect x="989.05" y="487" width="2.2" height="7.5" fill="#1a1a1a"/>
<text class="xl" transform="translate(994.95,498.9) rotate(-45)" text-anchor="end">P<tspan class="sb" dy="3">III</tspan></text>
</g>
<!-- CAPTIONS -->
<g filter="url(#soft)">
<text class="cap" x="426.8" y="599.5" text-anchor="end">l variation of DON and DBP occurrence</text>
<text class="cap" x="615.2" y="602.5" style="font-size:24.75px">Relationship between DBPs and DON</text>
</g>
<rect x="993.6" y="0" width="1.4" height="611" fill="#000"/>
</svg>
</div>
</body>
</html>
